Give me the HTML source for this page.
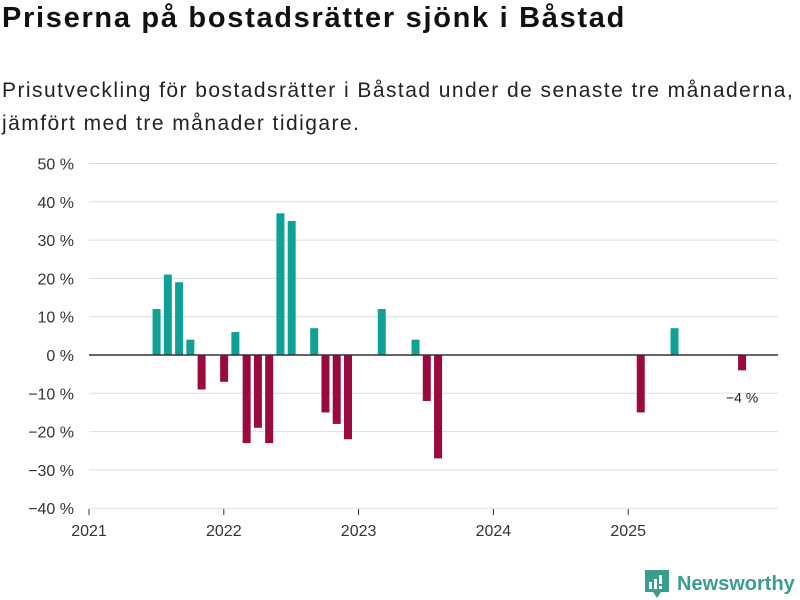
<!DOCTYPE html>
<html><head><meta charset="utf-8"><style>
body{margin:0;width:800px;height:600px;background:#fff;font-family:"Liberation Sans",sans-serif;overflow:hidden;position:relative}
h1{position:absolute;left:2px;top:2px;margin:0;font-size:29px;font-weight:bold;color:#111;letter-spacing:1.7px}
.sub{position:absolute;left:2px;top:74px;margin:0;font-size:21px;line-height:33px;color:#222;letter-spacing:1.45px}
</style></head><body>
<h1>Priserna på bostadsrätter sjönk i Båstad</h1>
<p class="sub">Prisutveckling för bostadsrätter i Båstad under de senaste tre månaderna,<br>jämfört med tre månader tidigare.</p>
<svg id="c" width="800" height="600" style="position:absolute;left:0;top:0"></svg>
<div style="position:absolute;left:645px;top:570px;display:flex;align-items:center">
<svg width="24" height="28" viewBox="0 0 24 28"><path d="M0 0H24V22H16L12 28L8 22H0Z" fill="#3a9e8f"/><rect x="4" y="12" width="3" height="7" fill="#fff"/><rect x="9" y="9" width="3" height="10" fill="#fff"/><rect x="14" y="5" width="3" height="9" fill="#fff"/><rect x="14" y="16" width="3" height="3" fill="#fff"/></svg>
<span style="margin-left:8px;font-size:20px;color:#3a9e8f;font-weight:bold">Newsworthy</span></div>
<script>
const months=[6,7,8,9,10,12,13,14,15,16,17,18,20,21,22,23,26,29,30,31,49,52,58];
const values=[12,21,19,4,-9,-7,6,-23,-19,-23,37,35,7,-15,-18,-22,12,4,-12,-27,-15,7,-4];
const yTicks=[50,40,30,20,10,0,-10,-20,-30,-40];
const yLabels=["50 %","40 %","30 %","20 %","10 %","0 %","−10 %","−20 %","−30 %","−40 %"];
const xYears=[2021,2022,2023,2024,2025];
const ns="http://www.w3.org/2000/svg",svg=document.getElementById('c');
const y=v=>355-v*3.83;
const x=m=>89+m*11.26;
function mk(t,a,txt){const e=document.createElementNS(ns,t);for(const k in a)e.setAttribute(k,a[k]);if(txt!==undefined)e.textContent=txt;svg.appendChild(e);return e;}
yTicks.forEach((t,i)=>{
 const g=mk('line',{x1:89,x2:778,y1:y(t),y2:y(t),stroke:'#ddd','stroke-width':1});
 
 
 const l=mk('text',{x:74,y:y(t)+6,'text-anchor':'end','font-size':16,fill:'#333','font-family':'Liberation Sans'},yLabels[i]);
 
 
});
xYears.forEach((yr,i)=>{
 const xx=89+i*134.8;
 const t=mk('line',{x1:xx,x2:xx,y1:509,y2:515,stroke:'#333'});
 
 
 const l=mk('text',{x:xx,y:536,'text-anchor':'middle','font-size':16,fill:'#333','font-family':'Liberation Sans'},yr);
 
 
});
months.forEach((m,i)=>{
 const v=values[i];
 const b=mk('rect',{x:x(m)-4,width:8,y:Math.min(y(v),y(0)),height:Math.abs(y(v)-y(0)),fill:v>=0?'#0fa195':'#9b0a3f'});
 
 
});
const z=mk('line',{x1:89,x2:778,y1:y(0),y2:y(0),stroke:'#333','stroke-width':1.5});


const li=months.length-1;
const lab=mk('text',{x:x(months[li]),y:y(values[li])+32,'text-anchor':'middle','font-size':14,fill:'#222','font-family':'Liberation Sans'},'−'+Math.abs(values[li])+' %');


</script>
</body></html>
